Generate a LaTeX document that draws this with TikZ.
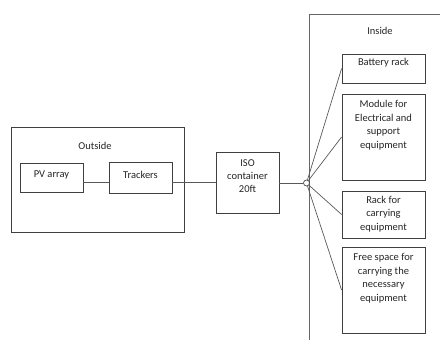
\documentclass[tikz,border=0pt]{standalone}
\usepackage{fontspec}
\setmainfont{Carlito}
\begin{document}
\begin{tikzpicture}[x=1pt,y=-1pt,
  boxst/.style={draw=black!75, line width=0.8pt, fill=white, inner sep=0pt},
  lbl/.style={font=\fontsize{10.5}{13.4}\selectfont, align=center, inner sep=0pt, text=black!85},
  conn/.style={draw=black!65, line width=0.7pt}]
\useasboundingbox (0,0) rectangle (440,340);
% outside group
\node[boxst, minimum width=173pt, minimum height=105pt] (outside) at (97.5,179.5) {};
\node[lbl] (outlbl) at (95,146) {Outside};
\node[boxst, minimum width=63pt, minimum height=29pt] (pv) at (51.5,177.5) {};
\node[lbl] (pvl) at (51.5,174.5) {PV array};
\node[boxst, minimum width=63pt, minimum height=31pt] (tr) at (140.5,177.5) {};
\node[lbl] (trl) at (140.5,174.5) {Trackers};
% ISO container
\node[boxst, minimum width=63pt, minimum height=61pt] (iso) at (247.5,182.5) {};
\node[lbl, anchor=north] (isol) at (247.5,159) {ISO\\container\\20ft};
% inside frame
\coordinate (itr) at (440,14);
\coordinate (itl) at (309,14);
\coordinate (ibl) at (309,340);
\draw[conn, draw=black!60, line width=0.9pt] (itr) -- (itl) -- (ibl);
\node[lbl] (inlbl) at (380,31) {Inside};
% inside boxes
\node[boxst, minimum width=83pt, minimum height=29pt] (bat) at (383.5,68.5) {};
\node[lbl, anchor=north] (batl) at (383.5,58.5) {Battery rack};
\node[boxst, minimum width=83pt, minimum height=86pt] (mod) at (383.5,137) {};
\node[lbl, anchor=north] (modl) at (383.5,100.5) {Module for\\Electrical and\\support\\equipment};
\node[boxst, minimum width=83pt, minimum height=47pt] (rack) at (383.5,214.5) {};
\node[lbl, anchor=north] (rackl) at (383.5,196) {Rack for\\carrying\\equipment};
\node[boxst, minimum width=83pt, minimum height=86pt] (free) at (383.5,290) {};
\node[lbl, anchor=north] (freel) at (383.5,253.5) {Free space for\\carrying the\\necessary\\equipment};
% hub
\node[draw=black!70, line width=0.7pt, circle, minimum size=6pt, inner sep=0pt] (hub) at (306.5,183) {};
% connectors
\coordinate (lv) at (0,182.5);
\draw[conn] (pv.east |- lv) -- (tr.west |- lv);
\draw[conn] (tr.east |- lv) -- (iso.west |- lv);
\draw[conn] (iso.east |- hub) -- (hub.west);
\draw[conn] (hub) -- (bat.west);
\draw[conn] (hub) -- (mod.west);
\draw[conn] (hub) -- (rack.west);
\draw[conn] (hub) -- (free.west);
\end{tikzpicture}
\end{document}
